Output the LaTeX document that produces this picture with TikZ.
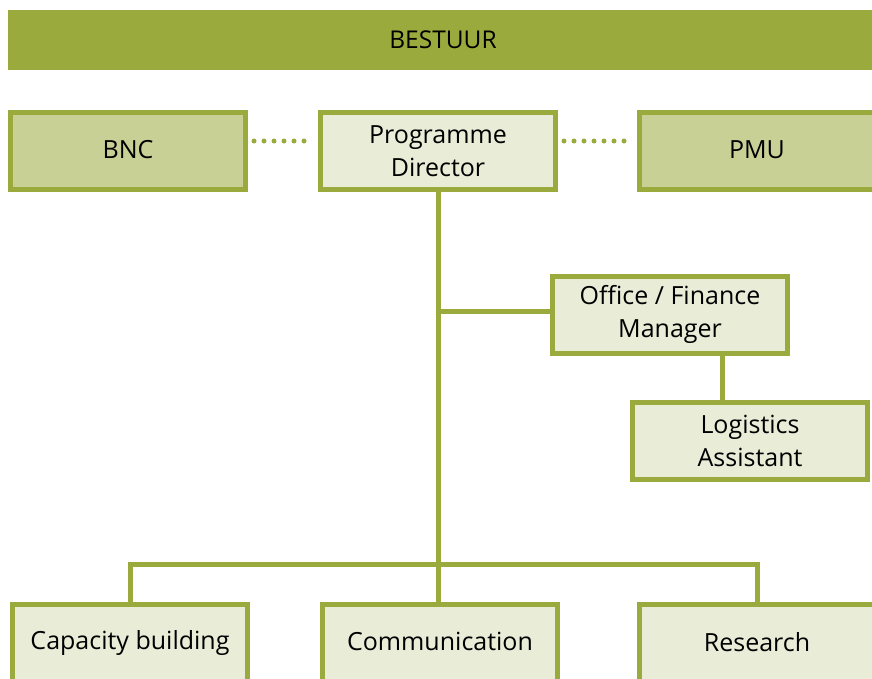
\documentclass[tikz,border=0pt]{standalone}
\usepackage{fontspec}
\setmainfont{Open Sans}
\definecolor{gr}{HTML}{9AAA3C}
\definecolor{darkfill}{HTML}{C8D096}
\definecolor{lightfill}{HTML}{E9EDD8}
\newcommand{\eqstrut}{\rule[-3pt]{0pt}{20pt}}
\begin{document}
\begin{tikzpicture}[x=1pt,y=-1pt,
  box/.style={draw=gr, line width=5pt, minimum width=235pt, minimum height=77pt, inner sep=0pt, align=center, font=\fontsize{25}{33}\selectfont, fill=lightfill},
  darkbox/.style={box, fill=darkfill},
  conn/.style={draw=gr, line width=5pt},
  dotline/.style={draw=gr, line width=5pt, line cap=round, dash pattern=on 0pt off 10pt}]
\useasboundingbox (0,0) rectangle (872,678);
\clip (0,0) rectangle (872,678);
\node[fill=gr, minimum width=872pt, minimum height=60pt, inner sep=0pt, anchor=north west] (best) at (8,10) {};
\node[font=\fontsize{24.5}{29}\selectfont] (bestlabel) at (443,39.5) {BESTUUR};
\node[darkbox] (bnc) at (128,150.5) {\eqstrut BNC};
\node[box] (pd) at (438,151) {Programme\\Director};
\node[darkbox] (pmu) at (757,151) {\eqstrut PMU};
\node[box] (of) at (670,314.5) {Office / Finance\\Manager};
\node[box] (log) at (750,440.5) {Logistics\\Assistant};
\node[box] (cap) at (130,643) {\eqstrut Capacity building};
\node[box] (com) at (440,643) {\eqstrut Communication};
\node[box] (res) at (757,643) {\eqstrut Research};
\coordinate (ofj) at (438,311);
\draw[dotline] ([xshift=6pt,yshift=9.5pt]bnc.east) -- ([xshift=-4pt,yshift=10pt]pd.west);
\draw[dotline] ([xshift=6pt,yshift=10pt]pd.east) -- ([xshift=-4pt,yshift=10pt]pmu.west);
\draw[conn] (pd.south) -- (pd.south |- cap.north);
\draw[conn] (ofj) -- (ofj -| of.west);
\draw[conn] (log.north -| 722,0) -- (of.south -| 722,0);
\draw[conn] (cap.north) -- ++(0,-38) -| (res.north);
\end{tikzpicture}
\end{document}
